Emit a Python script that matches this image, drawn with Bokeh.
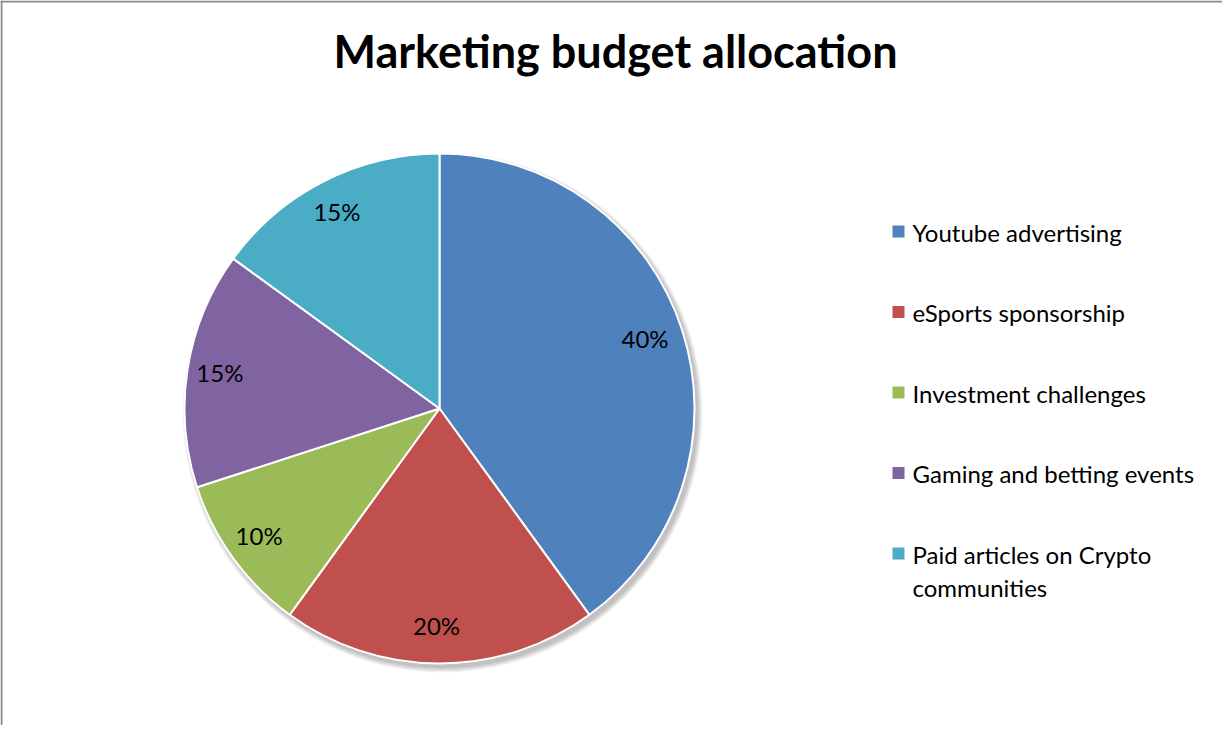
import numpy as np
from bokeh.plotting import figure
from bokeh.models import Range1d, ColumnDataSource, Label, Span
from bokeh.core.properties import value
from bokeh.embed import file_html
from bokeh.resources import INLINE

# ---- data ----
categories = ["Youtube advertising", "eSports sponsorship", "Investment challenges",
              "Gaming and betting events", "Paid articles on Crypto\ncommunities"]
shares = [40, 20, 10, 15, 15]
colors = ["#4F81BD", "#C0504D", "#9BBB59", "#8064A2", "#4BACC6"]
title_text = "Marketing budget allocation"

FONT = "Lato"
W, H = 1222, 725
TOP = 725  # data y = TOP - screen y

p = figure(width=W, height=H, x_range=Range1d(0, W), y_range=Range1d(0, H),
           output_backend="svg", toolbar_location=None, min_border=0)
p.axis.visible = False
p.grid.visible = False
p.outline_line_color = None
p.background_fill_color = "white"
p.border_fill_color = "white"

# frame border (top and left visible in reference)
p.add_layout(Span(location=1, dimension="height", line_color="#888888", line_width=2))
p.add_layout(Span(location=H - 1, dimension="width", line_color="#888888", line_width=2))

cx, cy, r = 439, TOP - 408, 255

fr = np.array(shares, dtype=float) / sum(shares)
cum = np.concatenate([[0], np.cumsum(fr)])
start = np.pi / 2 - cum[:-1] * 2 * np.pi
end = np.pi / 2 - cum[1:] * 2 * np.pi
mid = (start + end) / 2

# soft shadow
for i in range(6):
    p.circle(x=cx + 3, y=cy - 4, radius=r + 0.5 + i * 0.9, fill_color="black",
             fill_alpha=0.045, line_color=None)

src = ColumnDataSource(dict(start=start, end=end, color=colors, cat=categories, share=shares))
p.wedge(x=cx, y=cy, radius=r, start_angle="start", end_angle="end", direction="clock",
        fill_color="color", line_color="white", line_width=2, source=src)

# percentage labels
d = 0.86 * r
lab = ColumnDataSource(dict(x=cx + d * np.cos(mid) - 3, y=cy + d * np.sin(mid) + 2,
                            t=[f"{s}%" for s in shares]))
p.text(x="x", y="y", text="t", source=lab, text_font=value(FONT), text_font_size="24px",
       text_align="center", text_baseline="middle", text_color="#000000")

# legend (manual)
row_y = TOP - (231 + 80.5 * np.arange(len(categories)))
p.rect(x=898, y=row_y, width=12, height=12, fill_color=colors, line_color=None)
leg = ColumnDataSource(dict(x=[912] * len(categories), y=row_y + 14, t=categories))
p.text(x="x", y="y", text="t", source=leg, text_font=value(FONT), text_font_size="24px",
       text_align="left", text_baseline="top", text_line_height=1.17, text_color="#000000")

p.add_layout(Label(x=615, y=TOP - 50.5, text=title_text, text_font=FONT, text_font_size="45px",
                   text_font_style="bold", text_align="center", text_baseline="middle",
                   text_color="#000000"))

open("out.html", "w").write(file_html(p, INLINE))
